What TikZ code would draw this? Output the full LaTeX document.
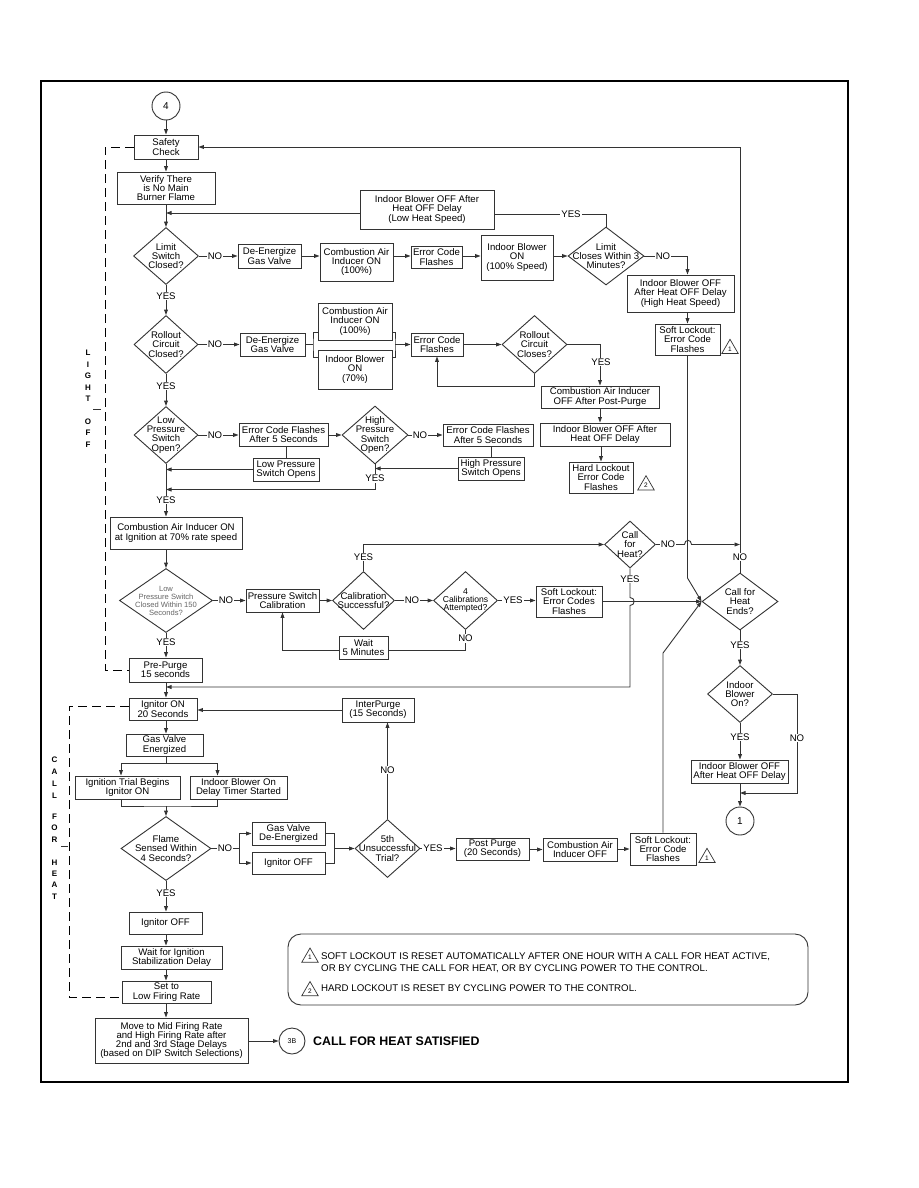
\documentclass[tikz,border=0pt]{standalone}
\usepackage{fontspec}
\setmainfont{Liberation Sans}
\usetikzlibrary{arrows.meta,shapes.geometric,calc}
\newcommand\myfnt{\fontsize{9.6}{9.3}\selectfont}
\definecolor{lc}{gray}{0.2}
\newcommand\bxn[6]{\node[bx,minimum width={(#4)-(#2)},minimum height={(#5)-(#3)}] (#1) at ({((#2)+(#4))/2},{((#3)+(#5))/2}) {#6};}
\begin{document}
\begin{tikzpicture}[x=1pt,y=-1pt,
  ln/.style={draw=lc,line width=0.9pt},
  arr/.style={-{Triangle[length=5.5pt,width=3.8pt]}},
  bx/.style={draw=lc,line width=0.9pt,inner sep=0pt,align=center,font=\myfnt},
  dia/.style={draw=lc,line width=0.9pt,diamond,inner sep=0pt},
  dt/.style={align=center,font=\myfnt,inner sep=0pt},
  lab/.style={fill=white,inner sep=1pt,font=\myfnt},
  dsh/.style={draw=black,line width=0.9pt,dash pattern=on 9pt off 5pt},
  vl/.style={inner sep=0pt,font=\bfseries\fontsize{8}{8}\selectfont},
  cir/.style={draw=lc,line width=0.9pt,circle,inner sep=0pt},
  tri/.style={draw=lc,line width=0.7pt,regular polygon,regular polygon sides=3,minimum size=19pt,inner sep=0pt,font=\fontsize{6.5}{7}\selectfont}]
\useasboundingbox (0,0) rectangle (918,1188);
\fill[white] (0,0) rectangle (918,1188);
\draw[line width=2.5pt] (41,81) rectangle (848,1082);
\coordinate (cx) at (166,0);

% ---------- boxes ----------
\node[cir,minimum size=28pt,font=\fontsize{10}{10}\selectfont] (c4) at (166,106) {4};
\bxn{safety}{134}{135}{198}{159}{Safety\\Check}
\bxn{verify}{117}{172}{215}{204}{Verify There\\is No Main\\Burner Flame}
\bxn{lowheat}{360}{190}{494}{229}{Indoor Blower OFF After\\Heat OFF Delay\\(Low Heat Speed)}
\bxn{deen1}{238}{244}{301}{268}{De-Energize\\Gas Valve}
\bxn{cai1}{320}{243}{393}{281}{Combustion Air\\Inducer ON\\(100\%)}
\bxn{ecf1}{411}{246}{462}{268}{Error Code\\Flashes}
\bxn{ibon1}{481}{235}{553}{280}{Indoor Blower\\ON\\(100\% Speed)}
\bxn{highheat}{627}{275}{734}{312}{Indoor Blower OFF\\After Heat OFF Delay\\(High Heat Speed)}
\bxn{soft1}{655}{324}{720}{355}{Soft Lockout:\\Error Code\\Flashes}
\bxn{deen2}{240}{333}{305}{356}{De-Energize\\Gas Valve}
\bxn{cai2}{318}{303}{392}{340}{Combustion Air\\Inducer ON\\(100\%)}
\bxn{ibon2}{318}{350}{392}{389}{Indoor Blower\\ON\\(70\%)}
\bxn{ecf2}{411}{333}{463}{356}{Error Code\\Flashes}
\bxn{caioff}{541}{386}{659}{408}{Combustion Air Inducer\\OFF After Post-Purge}
\bxn{iboff1}{540}{423}{670}{446}{Indoor Blower OFF After\\Heat OFF Delay}
\bxn{hard}{569}{462}{633}{493}{Hard Lockout\\Error Code\\Flashes}
\bxn{ecf5a}{239}{423}{328}{446}{Error Code Flashes\\After 5 Seconds}
\bxn{lpso}{253}{458}{319}{481}{Low Pressure\\Switch Opens}
\bxn{ecf5b}{443}{424}{533}{446}{Error Code Flashes\\After 5 Seconds}
\bxn{hpso}{458}{457}{524}{480}{High Pressure\\Switch Opens}
\bxn{cai70}{110}{517}{242}{549}{Combustion Air Inducer ON\\at Ignition at 70\% rate speed}
\bxn{psc}{246}{589}{319}{612}{Pressure Switch\\Calibration}
\bxn{soft2}{536}{586}{602}{617}{Soft Lockout:\\Error Codes\\Flashes}
\bxn{wait}{339}{636}{388}{659}{Wait\\5 Minutes}
\bxn{prepurge}{129}{658}{202}{682}{Pre-Purge\\15 seconds}
\bxn{iboff2}{691}{760}{788}{783}{Indoor Blower OFF\\After Heat OFF Delay}
\node[cir,minimum size=28pt,font=\fontsize{10}{10}\selectfont] (c1) at (740,821) {1};
\bxn{ign}{129}{698}{197}{720}{Ignitor ON\\20 Seconds}
\bxn{interp}{342}{698}{414}{722}{InterPurge\\(15 Seconds)}
\bxn{gasv}{126}{734}{203}{756}{Gas Valve\\Energized}
\bxn{itb}{75}{776}{180}{799}{Ignition Trial Begins\\Ignitor ON}
\bxn{ibdt}{190}{776}{287}{799}{Indoor Blower On\\Delay Timer Started}
\bxn{gvde}{252}{822}{325}{845}{Gas Valve\\De-Energized}
\bxn{igoff1}{252}{852}{325}{874}{Ignitor OFF}
\bxn{pp}{456}{838}{529}{860}{Post Purge\\(20 Seconds)}
\bxn{caioff2}{543}{838}{617}{861}{Combustion Air\\Inducer OFF}
\bxn{soft3}{630}{833}{696}{865}{Soft Lockout:\\Error Code\\Flashes}
\bxn{igoff2}{129}{912}{202}{934}{Ignitor OFF}
\bxn{wait2}{121}{946}{222}{969}{Wait for Ignition\\Stabilization Delay}
\bxn{setlow}{122}{981}{211}{1003}{Set to\\Low Firing Rate}
\bxn{move}{95}{1018}{248}{1063}{Move to Mid Firing Rate\\and High Firing Rate after\\2nd and 3rd Stage Delays\\(based on DIP Switch Selections)}
\node[cir,minimum size=26pt,font=\fontsize{7}{7}\selectfont] (c3b) at (292,1041) {3B};
\node[anchor=west,inner sep=0pt,font=\bfseries\fontsize{12.4}{12}\selectfont] (cfhs) at (313,1041) {CALL FOR HEAT SATISFIED};

% warning triangles
\node[tri] (t1) at (730,348.8) {1};
\node[tri] (t2) at (646,485.2) {2};
\node[tri] (t3) at (707,857.8) {1};

% ---------- diamonds ----------
\node[dia,minimum width=65pt,minimum height=57pt] (dlimit) at (166,256) {};
\node[dt] (dlimit-t) at (dlimit) {Limit\\Switch\\Closed?};
\node[dia,minimum width=76pt,minimum height=58pt] (dlimit3) at (606,256) {};
\node[dt] (dlimit3-t) at (dlimit3) {Limit\\Closes Within 3\\Minutes?};
\node[dia,minimum width=64pt,minimum height=58pt] (drollout) at (166,344.5) {};
\node[dt] (drollout-t) at (drollout) {Rollout\\Circuit\\Closed?};
\node[dia,minimum width=65pt,minimum height=58pt] (drcc) at (534.5,344.5) {};
\node[dt] (drcc-t) at (drcc) {Rollout\\Circuit\\Closes?};
\node[dia,minimum width=64pt,minimum height=57pt] (dlps) at (166,435) {};
\node[dt] (dlps-t) at (dlps) {Low\\Pressure\\Switch\\Open?};
\node[dia,minimum width=66pt,minimum height=58pt] (dhps) at (375,435) {};
\node[dt] (dhps-t) at (dhps) {High\\Pressure\\Switch\\Open?};
\node[dia,minimum width=93pt,minimum height=64pt] (dlp150) at (166,600.5) {};
\node[dt,text=black!60,font=\fontsize{7.6}{8}\selectfont] (dlp150-t) at (dlp150) {Low\\Pressure Switch\\Closed Within 150\\Seconds?};
\node[dia,minimum width=62pt,minimum height=58pt] (dcals) at (363.5,600.5) {};
\node[dt] (dcals-t) at (dcals) {Calibration\\Successful?};
\node[dia,minimum width=64pt,minimum height=58pt] (d4cal) at (465.5,600.5) {};
\node[dt,font=\fontsize{8.6}{8.3}\selectfont] (d4cal-t) at (d4cal) {4\\Calibrations\\Attempted?};
\node[dia,minimum width=51pt,minimum height=47pt] (dcfh) at (630,544.5) {};
\node[dt] (dcfh-t) at (dcfh) {Call\\for\\Heat?};
\node[dia,minimum width=76pt,minimum height=57pt] (dcfhe) at (740,601.5) {};
\node[dt] (dcfhe-t) at (dcfhe) {Call for\\Heat\\Ends?};
\node[dia,minimum width=65pt,minimum height=57pt] (dibon) at (740,694) {};
\node[dt] (dibon-t) at (dibon) {Indoor\\Blower\\On?};
\node[dia,minimum width=90pt,minimum height=64pt] (dflame) at (166,848.5) {};
\node[dt] (dflame-t) at (dflame) {Flame\\Sensed Within\\4 Seconds?};
\node[dia,minimum width=65pt,minimum height=58pt] (d5th) at (387.5,848.5) {};
\node[dt] (d5th-t) at (d5th) {5th\\Unsuccessful\\Trial?};

% ---------- join coordinates ----------
\coordinate (j1) at (166,687);
\coordinate (j3) at (166,489.5);
\coordinate (j4) at (740,544.5);
\coordinate (j2) at (740,793);
\coordinate (rb1) at (313,344.5);
\coordinate (rb2) at (395,344.5);
\coordinate (b1) at (166,763);
\coordinate (b2) at (166,806);
\coordinate (fb) at (239.3,848.5);
\coordinate (fb2) at (334.3,848.5);
\coordinate (lh) at ([yshift=-3.5pt]lowheat.west);
\coordinate (lhe) at ([yshift=-4.5pt]lowheat.east);

% ---------- connectors ----------
\draw[ln,arr] (c4) -- (safety);
\draw[ln,arr] (safety) -- (verify);
\draw[ln,arr] (verify) -- (dlimit);
\draw[ln,arr] (lh) -- (lh -| cx);
\draw[ln,arr] (dlimit.east) -- (dlimit.east -| deen1.west);
\draw[ln,arr] (deen1.east) -- (deen1.east -| cai1.west);
\draw[ln,arr] (cai1.east |- deen1.east) -- (ecf1.west |- deen1.east);
\draw[ln,arr] (ecf1.east |- deen1.east) -- (ibon1.west |- deen1.east);
\draw[ln,arr] (ibon1.east |- deen1.east) -- (dlimit3.west);
\draw[ln] (dlimit3.north) |- (lhe);
\draw[ln,arr] (dlimit3.east) -| ([xshift=7pt]highheat.north);
\draw[ln,arr] ([xshift=7pt]highheat.south) -- (soft1.north);
\draw[ln,arr] (dlimit.south) -- (drollout.north);

\draw[ln,arr] (drollout.east) -- (drollout.east -| deen2.west);
\draw[ln] (deen2.east |- rb1) -- (rb1);
\draw[ln] ([yshift=-10.5pt]cai2.west) -| (rb1) |- ([yshift=12.5pt]ibon2.west);
\draw[ln] ([yshift=-10.5pt]cai2.east) -| (rb2) |- ([yshift=12.5pt]ibon2.east);
\draw[ln,arr] (rb2) -- (rb2 -| ecf2.west);
\draw[ln,arr] (ecf2.east |- drcc.west) -- (drcc.west);
\draw[ln,arr] (drcc.south) -- ++(0,12) -| (ecf2.south);
\draw[ln,arr] (drcc.east) -| (caioff.north);
\draw[ln,arr] (caioff.south) -- (caioff.south |- iboff1.north);
\draw[ln,arr] (iboff1.south -| hard.north) -- (hard.north);
\draw[ln,arr] (drollout.south) -- (dlps.north);

\draw[ln,arr] (dlps.east) -- (dlps.east -| ecf5a.west);
\draw[ln,arr] (ecf5a.east |- dhps.west) -- (dhps.west);
\draw[ln] (lpso.north |- ecf5a.south) -- (lpso.north);
\draw[ln,arr] (lpso.west) -- (lpso.west -| cx);
\draw[ln,arr] (dhps.east) -- (dhps.east -| ecf5b.west);
\draw[ln] (hpso.north |- ecf5b.south) -- (hpso.north);
\draw[ln,arr] (hpso.west) -- (hpso.west -| dhps.south);
\draw[ln,arr] (dhps.south) |- (j3);
\draw[ln,arr] (dlps.south) -- (cai70.north -| cx);
\draw[ln,arr] (cai70.south -| cx) -- (dlp150.north);

\draw[ln,arr] (dlp150.east) -- (dlp150.east -| psc.west);
\draw[ln,arr] (psc.east |- dcals.west) -- (dcals.west);
\draw[ln,arr] (dcals.north) |- (dcfh.west);
\draw[ln,arr] (dcals.east) -- (d4cal.west);
\draw[ln,arr] (d4cal.east) -- (d4cal.east -| soft2.west);
\draw[ln] (d4cal.south) |- ([yshift=-2.5pt]wait.east);
\draw[ln,arr] ([yshift=-2.5pt]wait.west) -| (psc.south);
\draw[ln,arr] (dlp150.south) -- (prepurge.north -| cx);
\draw[ln,arr] (prepurge.south -| cx) -- (ign.north -| cx);
\draw[ln,arr] (dcfh.south) -- (630,597.5) .. controls (635.5,597.5) and (635.5,605.5) .. (630,605.5) -- (630,687) -- (j1);
\draw[ln,arr] (dcfh.east) -- (684.5,544.5) .. controls (684.5,539) and (691.5,539) .. (691.5,544.5) -- (j4);
\draw[ln,arr] (dcfhe.north) -- (dcfhe.north |- safety.east) -- (safety.east);
\draw[ln,arr] (soft1.south) -- (soft1.south |- 0,578) -- (dcfhe.west);
\draw[ln,arr] (soft2.east) -- (dcfhe.west);
\draw[ln,arr] (soft3.north) -- (soft3.north |- 0,653) -- (dcfhe.west);
\draw[ln,arr] (dcfhe.south) -- (dibon.north);
\draw[ln,arr] (dibon.east) -- (797,694) -- (797,793) -- (j2);
\draw[ln,arr] (dibon.south) -- (iboff2.north -| dibon.south);
\draw[ln,arr] (iboff2.south -| c1.north) -- (c1.north);

\draw[ln,arr] (interp.west) -- (interp.west -| ign.east);
\draw[ln,arr] (ign.south -| cx) -- (gasv.north -| cx);
\draw[ln] (gasv.south -| cx) -- (b1);
\draw[ln,arr] (b1) -| ([xshift=-6.5pt]itb.north);
\draw[ln,arr] (b1) -| ([xshift=-21pt]ibdt.north);
\draw[ln] ([xshift=-6.5pt]itb.south) |- (b2) -| ([xshift=-21pt]ibdt.south);
\draw[ln,arr] (b2) -- (dflame.north);
\draw[ln] (dflame.east) -- (fb);
\draw[ln,arr] (fb) |- (gvde.west);
\draw[ln,arr] (fb) |- (igoff1.west);
\draw[ln] (gvde.east) -| (fb2);
\draw[ln] (igoff1.east) -| (fb2);
\draw[ln,arr] (fb2) -- (d5th.west);
\draw[ln,arr] (d5th.north) -- (d5th.north |- interp.south);
\draw[ln,arr] (d5th.east) -- (d5th.east -| pp.west);
\draw[ln,arr] (pp.east |- caioff2.west) -- (caioff2.west);
\draw[ln,arr] (caioff2.east |- soft3.west) -- (soft3.west);
\draw[ln,arr] (dflame.south) -- (igoff2.north -| cx);
\draw[ln,arr] (igoff2.south -| cx) -- (wait2.north -| cx);
\draw[ln,arr] (wait2.south -| cx) -- (setlow.north -| cx);
\draw[ln,arr] (setlow.south -| cx) -- (move.north -| cx);
\draw[ln,arr] (move.east |- c3b.west) -- (c3b.west);

% dashed phase brackets
\draw[dsh] (safety.west) -- (105,147) -- (105,670) -- (prepurge.west);
\draw[dsh] ([yshift=3pt]ign.west) -- (69,706) -- (69,997) -- ([yshift=-5pt]setlow.west);
\draw[ln] (93,409) -- (101,409);
\draw[ln] (61,846) -- (68,846);
\foreach \ch/\yy [count=\i] in {L/353,I/364.5,G/376,H/387.5,T/398.5,O/421.5,F/433,F/444.5}
  \node[vl] (lo\i) at (88,\yy) {\ch};
\foreach \ch/\yy [count=\i] in {C/760,A/771.5,L/784,L/796,F/817,O/828,R/839.5,H/863,E/874,A/885,T/896.5}
  \node[vl] (ch\i) at (54.5,\yy) {\ch};

% ---------- YES / NO labels ----------
\node[lab] (l1) at (215,256) {NO};
\node[lab] (l2) at (571,214) {YES};
\node[lab] (l3) at (663,256) {NO};
\node[lab] (l4) at (166,296) {YES};
\node[lab] (l5) at (215,344.5) {NO};
\node[lab] (l6) at (601,362) {YES};
\node[lab] (l7) at (166,386) {YES};
\node[lab] (l8) at (215,435) {NO};
\node[lab] (l9) at (420,435) {NO};
\node[lab] (l10) at (375,478.5) {YES};
\node[lab] (l11) at (166,500) {YES};
\node[lab] (l12) at (226,600.5) {NO};
\node[lab] (l13) at (363.5,557) {YES};
\node[lab] (l14) at (412,600.5) {NO};
\node[lab] (l15) at (513,600.5) {YES};
\node[lab] (l16) at (465.5,638.5) {NO};
\node[lab] (l17) at (166,642) {YES};
\node[lab] (l18) at (630,579) {YES};
\node[lab] (l19) at (668,544.5) {NO};
\node[lab] (l20) at (740,557) {NO};
\node[lab] (l21) at (740,645) {YES};
\node[lab] (l22) at (740,737) {YES};
\node[lab] (l23) at (797,738) {NO};
\node[lab] (l24) at (387.5,770) {NO};
\node[lab] (l25) at (225,848.5) {NO};
\node[lab] (l26) at (433,848.5) {YES};
\node[lab] (l27) at (166,893) {YES};

% ---------- notes ----------
\node[draw=lc,line width=0.9pt,rounded corners=13pt,inner sep=0pt,minimum width=520pt,minimum height=71pt] (notes) at (548,969.5) {};
\node[tri] (nt1) at (310,957.5) {1};
\node[tri] (nt2) at (310,991) {2};
\node[anchor=west,inner sep=0pt,font=\fontsize{9.7}{9.7}\selectfont] (n1) at (321,956.5) {SOFT LOCKOUT IS RESET AUTOMATICALLY AFTER ONE HOUR WITH A CALL FOR HEAT ACTIVE,};
\node[anchor=west,inner sep=0pt,font=\fontsize{9.7}{9.7}\selectfont] (n2) at (321,968.5) {OR BY CYCLING THE CALL FOR HEAT, OR BY CYCLING POWER TO THE CONTROL.};
\node[anchor=west,inner sep=0pt,font=\fontsize{9.7}{9.7}\selectfont] (n3) at (321,988) {HARD LOCKOUT IS RESET BY CYCLING POWER TO THE CONTROL.};
\end{tikzpicture}
\end{document}
